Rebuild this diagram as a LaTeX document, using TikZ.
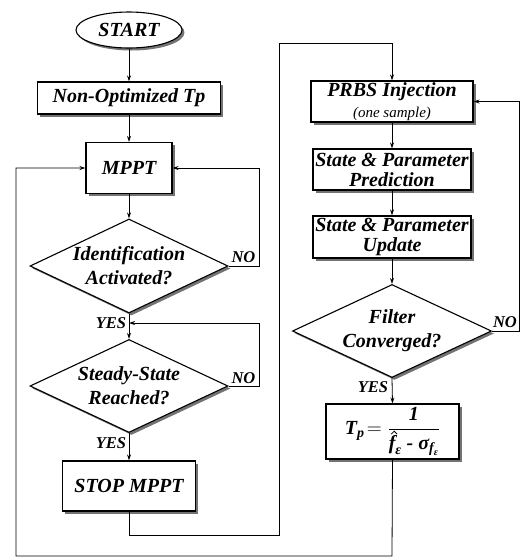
\documentclass[tikz,border=0pt]{standalone}
\usepackage{amsmath}
\usepackage{fontspec}
\setmainfont{Liberation Serif}
\usetikzlibrary{arrows.meta,shapes.geometric,shadows}
\newcommand{\hatmark}{\tikz[baseline=0pt]\draw[line width=0.8pt] (0pt,0pt)--(3pt,3pt)--(6pt,0pt);}
\begin{document}
\begin{tikzpicture}[x=1pt,y=-1pt,
 every node/.style={font=\fontsize{20}{24}\selectfont\bfseries\itshape, inner sep=0pt},
 sh/.style={drop shadow={shadow xshift=2.5pt,shadow yshift=-2.5pt,fill=black!55,opacity=1}},
 boxn/.style={draw,rectangle,fill=white,line width=1.1pt,sh,align=center},
 dia/.style={draw,diamond,fill=white,line width=1.1pt,sh},
 ell/.style={draw,ellipse,fill=white,line width=1.1pt,sh},
 txt/.style={align=center},
 lab/.style={font=\fontsize{16.5}{18}\selectfont\bfseries\itshape},
 arr/.style={-{Stealth[length=6pt,width=4pt]},line width=0.8pt},
 ln/.style={line width=0.8pt}]
\useasboundingbox (0,0) rectangle (520,558);
% left column
\node[ell,minimum width=106pt,minimum height=36pt] (start) at (129,30) {START};
\node[boxn,minimum width=183pt,minimum height=32pt] (nonopt) at (129,98) {Non-Optimized Tp};
\node[boxn,minimum width=86pt,minimum height=51pt] (mppt) at (129,168) {MPPT};
\node[dia,minimum width=198pt,minimum height=94pt] (ident) at (129,266) {};
\node[txt] (identt) at (ident.center) {Identification\\Activated?};
\node[dia,minimum width=198pt,minimum height=93pt] (steady) at (129,386) {};
\node[txt] (steadyt) at (steady.center) {Steady-State\\Reached?};
\node[boxn,minimum width=133pt,minimum height=50pt] (stop) at (129,486) {STOP MPPT};
% right column
\node[boxn,minimum width=162pt,minimum height=41pt] (prbs) at (392,101.5) {PRBS Injection\\[-3pt]{\fontsize{15}{17}\selectfont\mdseries\itshape (one sample)}};
\node[boxn,minimum width=158pt,minimum height=41pt] (pred) at (392,169.5) {State \& Parameter\\[-4pt]Prediction};
\node[boxn,minimum width=158pt,minimum height=42pt] (upd) at (392,237) {State \& Parameter\\[-4pt]Update};
\node[dia,minimum width=199pt,minimum height=93pt] (filt) at (392,331) {};
\node[txt] (filtt) at (filt.center) {Filter\\Converged?};
\node[boxn,minimum width=133pt,minimum height=55pt] (tp) at (392.5,431.5) {$\text{T}_{\text{p}}\!=\dfrac{\text{1}}{\rule{0pt}{17pt}\text{\rlap{\smash{\raisebox{15pt}{\kern2pt\hatmark}}}f}_{\text{ε}}\text{ - }\text{σ}_{\text{f}_{\text{ε}}}}$};
% coordinates
\coordinate (c1) at (259,266);
\coordinate (c2) at (259,168);
\coordinate (c3) at (259,386);
\coordinate (c4) at (259,323);
\coordinate (c5) at (129,323);
\coordinate (c6) at (129,535);
\coordinate (c7) at (279,535);
\coordinate (c8) at (279,43);
\coordinate (c9) at (392,43);
\coordinate (c10) at (519,331);
\coordinate (c11) at (519,101.5);
\coordinate (c12) at (392,556);
\coordinate (c13) at (16,556);
\coordinate (c14) at (16,168);
% connectors
\draw[arr] (start) -- (nonopt);
\draw[arr] (nonopt) -- (mppt);
\draw[arr] (mppt) -- (ident.north);
\draw[arr] (ident.east) -- (c1) -- (c2) -- (mppt.east);
\draw[arr] (ident.south) -- (steady.north);
\draw[arr] (steady.east) -- (c3) -- (c4) -- (c5);
\draw[arr] (steady.south) -- (stop.north);
\draw[arr] (stop.south) -- (c6) -- (c7) -- (c8) -- (c9) -- (prbs.north);
\draw[arr] (prbs) -- (pred);
\draw[arr] (pred) -- (upd);
\draw[arr] (upd) -- (filt.north);
\draw[arr] (filt.east) -- (c10) -- (c11) -- (prbs.east);
\draw[arr] (filt.south) -- (tp.north);
\draw[arr] (tp.south) -- (c12) -- (c13) -- (c14) -- (mppt.west);
% labels
\node[lab] (no1) at (243.5,257) {NO};
\node[lab] (no2) at (243.5,378) {NO};
\node[lab] (no3) at (505,322) {NO};
\node[lab] (yes1) at (111,323) {YES};
\node[lab] (yes2) at (111,443) {YES};
\node[lab] (yes3) at (373,387) {YES};
\end{tikzpicture}
\end{document}
